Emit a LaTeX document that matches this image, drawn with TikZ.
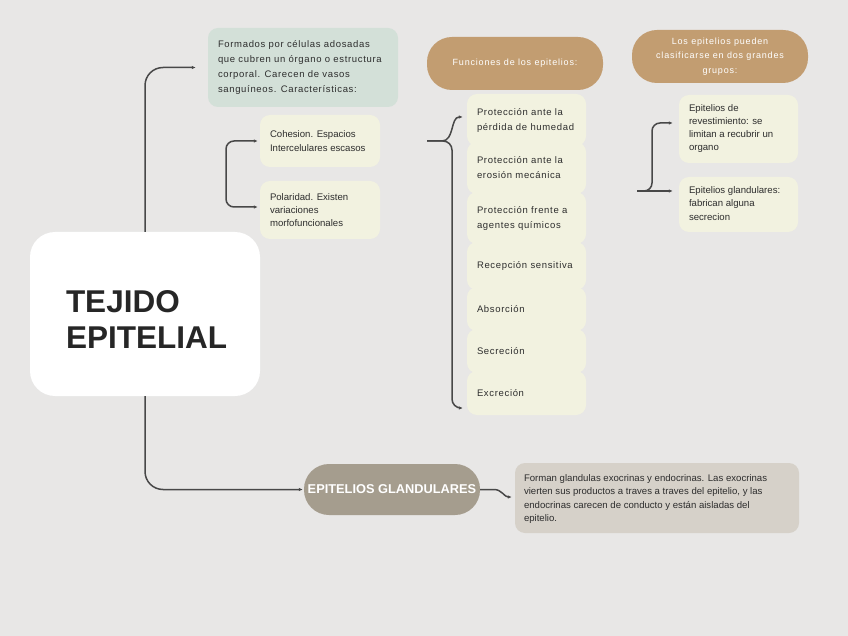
\documentclass[tikz,border=0pt]{standalone}
\usepackage{fontspec}
\setmainfont{Liberation Sans}
\usetikzlibrary{arrows.meta,calc}
\definecolor{bg}{RGB}{232,231,230}
\definecolor{greenbox}{RGB}{211,224,216}
\definecolor{creambox}{RGB}{242,242,224}
\definecolor{brownpill}{RGB}{194,157,113}
\definecolor{greypill}{RGB}{165,157,142}
\definecolor{taupebox}{RGB}{214,209,201}
\definecolor{linec}{RGB}{72,72,72}
\definecolor{txtc}{RGB}{45,45,45}
\begin{document}
\begin{tikzpicture}[x=1pt,y=-1pt,
 box/.style={rounded corners=10pt, inner sep=0pt, draw=none},
 cream/.style={box, fill=creambox},
 pill/.style={box, rounded corners=25pt, text=white, align=center},
 txt/.style={anchor=west, align=left, inner sep=0pt, text=txtc},
 spc/.style={font=\fontsize{9.5}{15}\selectfont\addfontfeature{LetterSpace=7}},
 small/.style={font=\fontsize{9.6}{13.3}\selectfont},
 conn/.style={draw=linec, line width=1.5pt, -{Latex[length=4pt,width=3.5pt]}},
 conntwo/.style={draw=linec, line width=1.5pt, {Latex[length=4pt,width=3.5pt]}-{Latex[length=4pt,width=3.5pt]}},
]
\fill[bg] (0,0) rectangle (848,636);
\useasboundingbox (0,0) rectangle (848,636);

% main
\node[box, fill=white, rounded corners=25pt, minimum width=230, minimum height=164] (main) at (145,314) {};
\node[txt, text=black!85, font=\fontsize{31.5}{36}\selectfont\bfseries] (maint) at ($(main.west)+(36,6)$) {TEJIDO\\EPITELIAL};

% green box
\node[box, fill=greenbox, minimum width=190, minimum height=79] (green) at (303,67.5) {};
\node[txt, spc] (greent) at ($(green.west)+(10,0)$) {Formados por células adosadas\\que cubren un órgano o estructura\\corporal. Carecen de vasos\\sanguíneos. Características:};

% cohesion / polaridad
\node[cream, minimum width=120, minimum height=52] (coh) at (320,141) {};
\node[txt, font=\fontsize{9.6}{14}\selectfont] (coht) at ($(coh.west)+(10,0)$) {Cohesion. Espacios\\Intercelulares escasos};
\node[cream, minimum width=120, minimum height=58] (pol) at (320,210) {};
\node[txt, font=\fontsize{9.6}{13}\selectfont] (polt) at ($(pol.west)+(10,0)$) {Polaridad. Existen\\variaciones\\morfofuncionales};

% funciones
\node[pill, fill=brownpill, minimum width=176, minimum height=53, font=\fontsize{9}{14}\selectfont\addfontfeature{LetterSpace=9}] (fun) at (515,63.5) {Funciones de los epitelios:};
\node[cream, minimum width=119, minimum height=52] (f1) at (526.5,120) {};
\node[cream, minimum width=119, minimum height=52] (f2) at (526.5,168) {};
\node[cream, minimum width=119, minimum height=52] (f3) at (526.5,218) {};
\node[cream, minimum width=119, minimum height=48] (f4) at (526.5,266) {};
\node[cream, minimum width=119, minimum height=44] (f5) at (526.5,309) {};
\node[cream, minimum width=119, minimum height=44] (f6) at (526.5,351) {};
\node[cream, minimum width=119, minimum height=44] (f7) at (526.5,393) {};
\node[txt, spc] (f1t) at ($(f1.west)+(10,0)$) {Protección ante la\\pérdida de humedad};
\node[txt, spc] (f2t) at ($(f2.west)+(10,0)$) {Protección ante la\\erosión mecánica};
\node[txt, spc] (f3t) at ($(f3.west)+(10,0)$) {Protección frente a\\agentes químicos};
\node[txt, spc] (f4t) at ($(f4.west)+(10,0)$) {Recepción sensitiva};
\node[txt, spc] (f5t) at ($(f5.west)+(10,0)$) {Absorción};
\node[txt, spc] (f6t) at ($(f6.west)+(10,0)$) {Secreción};
\node[txt, spc] (f7t) at ($(f7.west)+(10,0)$) {Excreción};

% clasificacion
\node[pill, fill=brownpill, minimum width=176, minimum height=53, font=\fontsize{9}{14.5}\selectfont\addfontfeature{LetterSpace=9}] (los) at (720,56.5) {Los epitelios pueden\\clasificarse en dos grandes\\grupos:};
\node[cream, minimum width=119, minimum height=68] (g1) at (738.5,129) {};
\node[txt, small, font=\fontsize{9.6}{13}\selectfont] (g1t) at ($(g1.west)+(10,0)$) {Epitelios de\\revestimiento: se\\limitan a recubrir un\\organo};
\node[cream, minimum width=119, minimum height=55] (g2) at (738.5,204.5) {};
\node[txt, small] (g2t) at ($(g2.west)+(10,-1)$) {Epitelios glandulares:\\fabrican alguna\\secrecion};

% epitelios glandulares
\node[pill, fill=greypill, minimum width=176, minimum height=51, font=\fontsize{12.8}{15}\selectfont\bfseries] (glan) at (392,489.5) {EPITELIOS GLANDULARES};
\node[box, fill=taupebox, minimum width=284, minimum height=70] (bot) at (657,498) {};
\node[txt, small] (bott) at ($(bot.west)+(9,1)$) {Forman glandulas exocrinas y endocrinas. Las exocrinas\\vierten sus productos a traves a traves del epitelio, y las\\endocrinas carecen de conducto y están aisladas del\\epitelio.};

% connectors
\draw[conn, rounded corners=18pt] (main.north) |- ($(green.west)+(-12,0)$);
\draw[conn, rounded corners=18pt] (main.south) |- ($(glan.west)+(-1,0)$);

\coordinate (bj) at (226,174);
\draw[conntwo, rounded corners=8pt] ($(coh.west)+(-2,0)$) -| (bj) |- ($(pol.west)+(-2,-3)$);

\coordinate (fs) at (427,141);
\coordinate (fj) at (452,141);
\draw[conn, rounded corners=9pt] (fs) -- (fj) |- ($(f7.west)+(-4,15)$);
\draw[conn] (fs) -- ($(fj)+(-10,0)$) to[out=0,in=180] ($(f1.west)+(-4,-3)$);

\coordinate (ls) at (637,191);
\draw[conn, shorten >=6pt] (ls) -- (g2.west |- ls);
\draw[conn, rounded corners=8pt] (ls) -- ($(ls)+(15,0)$) |- ($(g1.west)+(-6,-6)$);

\draw[conn] (glan.east) -- ($(glan.east)+(14,0)$) to[out=0,in=180] ($(bot.west)+(-3,-1)$);
\end{tikzpicture}
\end{document}
